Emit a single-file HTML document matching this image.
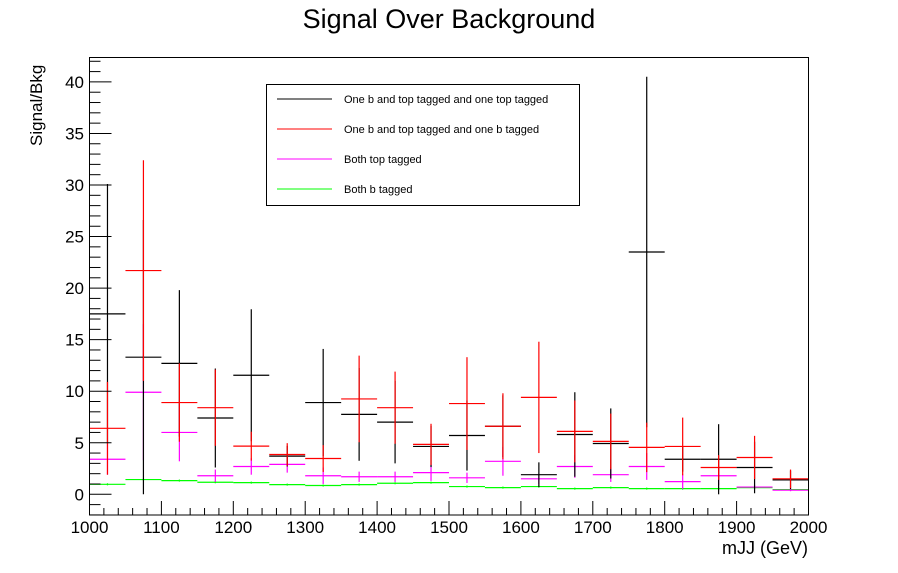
<!DOCTYPE html>
<html><head><meta charset="utf-8"><style>
html,body{margin:0;padding:0;background:#fff;}
svg{display:block;font-family:"Liberation Sans",Arial,sans-serif;}
</style></head><body>
<svg id="chart" width="898" height="573" viewBox="0 0 898 573" xmlns="http://www.w3.org/2000/svg">
<rect width="898" height="573" fill="#fff"/>
<text x="449" y="28" font-size="27" text-anchor="middle">Signal Over Background</text>
<text transform="translate(42,146) rotate(-90)" font-size="17" text-anchor="start">Signal/Bkg</text>
<text x="808" y="554" font-size="18" text-anchor="end">mJJ (GeV)</text>
<g id="marks"></g>
<g id="axes"></g>
<rect x="89.5" y="57.5" width="719" height="457.5" fill="none" stroke="#000" stroke-width="1"/>
<g>
<rect x="266.5" y="84.5" width="313" height="121" fill="#fff" stroke="#000" stroke-width="1"/>
<line x1="277" y1="99" x2="332" y2="99" stroke="#000"/>
<text x="344" y="103" font-size="11">One b and top tagged and one top tagged</text>
<line x1="277" y1="129" x2="332" y2="129" stroke="#f00"/>
<text x="344" y="133" font-size="11">One b and top tagged and one b tagged</text>
<line x1="277" y1="159" x2="332" y2="159" stroke="#f0f"/>
<text x="344" y="163" font-size="11">Both top tagged</text>
<line x1="277" y1="189" x2="332" y2="189" stroke="#0f0"/>
<text x="344" y="193" font-size="11">Both b tagged</text>
</g>
</svg>
<script>
const binLow = [1000,1050,1100,1150,1200,1250,1300,1350,1400,1450,1500,1550,1600,1650,1700,1750,1800,1850,1900,1950];
const blackVals = [17.5,13.3,12.7,7.4,11.55,3.7,8.9,7.75,7.0,4.64,5.7,6.6,1.9,5.8,4.93,23.5,3.4,3.4,2.6,1.4];
const blackErrs = [12.6,13.3,7.1,4.8,6.4,1.0,5.2,4.5,4.0,2.0,3.4,3.0,1.2,4.1,3.4,17.0,1.2,3.4,2.5,0.9];
const redVals = [6.4,21.7,8.9,8.4,4.67,3.86,3.47,9.25,8.4,4.84,8.8,6.6,9.4,6.1,5.13,4.55,4.64,2.6,3.57,1.5];
const redErrs = [4.5,10.7,3.8,3.7,1.4,1.1,1.3,4.2,3.5,2.0,4.5,3.2,5.4,3.0,2.7,2.4,2.8,1.2,2.1,0.9];
const magVals = [3.4,9.9,6.0,1.8,2.7,2.9,1.8,1.7,1.7,2.1,1.6,3.2,1.5,2.7,1.9,2.7,1.23,1.8,0.7,0.4];
const magErrs = [1.5,6.6,2.8,0.6,0.8,0.8,0.8,0.5,0.5,0.8,0.5,1.4,0.5,1.1,0.7,1.3,0.7,0.9,0.2,0.1];
const greenVals = [0.97,1.43,1.33,1.17,1.13,0.94,0.85,0.94,1.07,1.13,0.75,0.65,0.75,0.55,0.65,0.55,0.55,0.55,0.65,0.45];
const greenErrs = [0.1,0.1,0.1,0.1,0.1,0.1,0.1,0.1,0.1,0.1,0.1,0.1,0.1,0.1,0.1,0.1,0.1,0.1,0.1,0.1];
const xTickLabels = ["1000","1100","1200","1300","1400","1500","1600","1700","1800","1900","2000"];
const yTickLabels = ["0","5","10","15","20","25","30","35","40"];
const binWidth = 50;

const NS="http://www.w3.org/2000/svg";
const X0=89.5,X1=808.5,XMIN=1000,XMAX=2000;
const Y0=494.3,YPER=10.31,YBOT=515,YTOP=57.5;
function xs(v){return X0+(v-XMIN)/(XMAX-XMIN)*(X1-X0);}
function ys(v){return Y0-v*YPER;}
function clampY(y){return Math.max(YTOP,Math.min(YBOT,y));}
function mk(tag,attrs,parent){const e=document.createElementNS(NS,tag);for(const k in attrs)e.setAttribute(k,attrs[k]);parent.appendChild(e);return e;}
const marks=document.getElementById('marks');
const axes=document.getElementById('axes');
function drawSeries(name,vals,errs,color){
  const g=mk('g',{},marks);
  
  
  vals.forEach((v,i)=>{
    const xl=xs(binLow[i]),xr=xs(binLow[i]+binWidth),xc=xs(binLow[i]+binWidth/2);
    const h=mk('line',{x1:xl,x2:xr,y1:ys(v),y2:ys(v),stroke:color,'stroke-width':1.2},g);
    
    
    const e=mk('line',{x1:xc,x2:xc,y1:clampY(ys(v+errs[i])),y2:clampY(ys(v-errs[i])),stroke:color,'stroke-width':1.2},g);
    
    
  });
}
drawSeries('green',greenVals,greenErrs,'#0f0');
drawSeries('magenta',magVals,magErrs,'#f0f');
drawSeries('black',blackVals,blackErrs,'#000');
drawSeries('red',redVals,redErrs,'#f00');

for(let v=XMIN;v<=XMAX;v+=20){
  const major=(v%100===0);
  const t=mk('line',{x1:xs(v),x2:xs(v),y1:YBOT,y2:YBOT-(major?14:7),stroke:'#000'},axes);
  
  
}
xTickLabels.forEach(s=>{
  const t=mk('text',{x:xs(+s),y:533,'font-size':17,'text-anchor':'middle'},axes);
  t.textContent=s;
  
  
});
for(let v=-2;v<=42;v+=1){
  const major=(v%5===0);
  const t=mk('line',{x1:X0,x2:X0+(major?22:11),y1:ys(v),y2:ys(v),stroke:'#000'},axes);
  
  
}
yTickLabels.forEach(s=>{
  const t=mk('text',{x:84,y:ys(+s)+6,'font-size':17,'text-anchor':'end'},axes);
  t.textContent=s;
  
  
});
</script>
</body></html>
